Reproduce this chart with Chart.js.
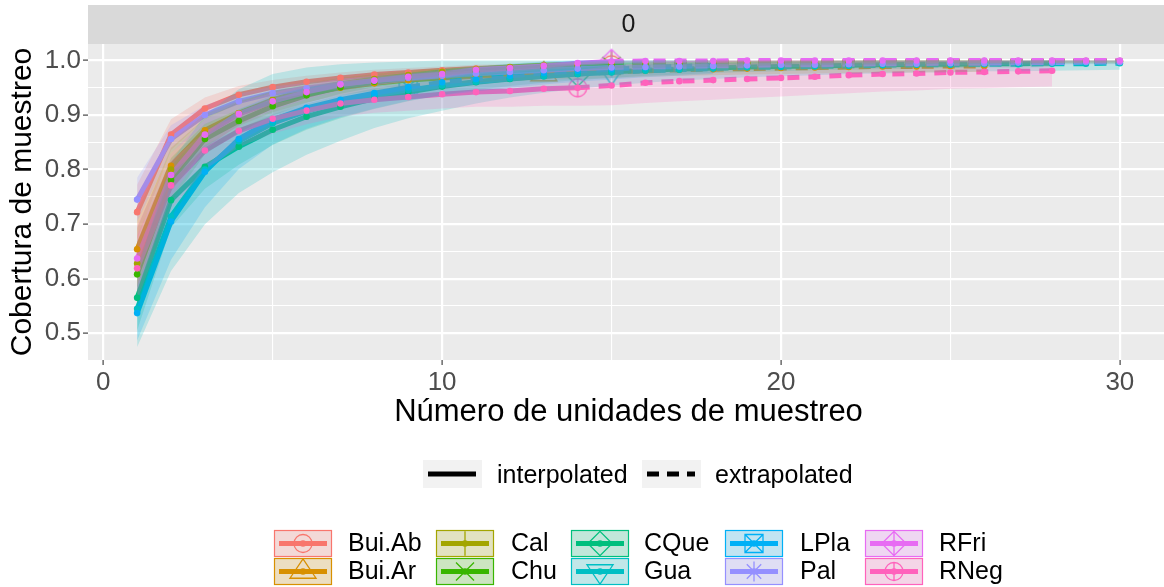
<!DOCTYPE html>
<html>
<head>
<meta charset="utf-8">
<title>Cobertura de muestreo</title>
<script src="https://cdn.jsdelivr.net/npm/chart.js@4.4.1/dist/chart.umd.min.js"></script>
<style>
  html, body { margin: 0; padding: 0; background: #ffffff; overflow: hidden; }
  #wrap { width: 1164px; height: 587px; overflow: hidden; position: relative; }
  canvas { display: block; }
</style>
</head>
<body>
<div id="wrap"><canvas id="myChart" width="1180" height="587"></canvas></div>
<script>
'use strict';

// Sites, in legend order
let siteNames = ['Bui.Ab', 'Bui.Ar', 'Cal', 'Chu', 'CQue', 'Gua', 'LPla', 'Pal', 'RFri', 'RNeg'];
let siteColors = ['#F8766D', '#D89000', '#A3A500', '#39B600', '#00BF7D', '#00BFC4', '#00B0F6', '#9590FF', '#E76BF3', '#FF62BC'];
let siteShapes = ['circle', 'triangle', 'plus', 'cross', 'diamond', 'triangleDown', 'squareCross', 'asterisk', 'diamondPlus', 'circlePlus'];
// observed number of sampling units per site (end of the interpolated part)
let observedUnits = [15, 13, 15, 15, 14, 15, 9, 15, 15, 14];

// Sample coverage at 1, 2, ... 2T sampling units
let covBuiAb = [0.722, 0.864, 0.912, 0.937, 0.951, 0.961, 0.968, 0.974, 0.978, 0.982, 0.985, 0.987, 0.989, 0.991, 0.992,
  0.993, 0.994, 0.995, 0.995, 0.996, 0.996, 0.997, 0.997, 0.997, 0.998, 0.998, 0.998, 0.998, 0.999, 0.999];
let covBuiAr = [0.654, 0.807, 0.872, 0.903, 0.924, 0.939, 0.950, 0.958, 0.964, 0.968, 0.971, 0.973, 0.975,
  0.977, 0.979, 0.981, 0.983, 0.984, 0.985, 0.986, 0.987, 0.988, 0.989, 0.989, 0.990, 0.990];
let covCal = [0.628, 0.800, 0.866, 0.903, 0.928, 0.945, 0.957, 0.966, 0.973, 0.979, 0.984, 0.988, 0.991, 0.993, 0.995,
  0.996, 0.996, 0.997, 0.997, 0.998, 0.998, 0.998, 0.998, 0.999, 0.999, 0.999, 0.999, 0.999, 0.999, 0.999];
let covChu = [0.608, 0.781, 0.856, 0.889, 0.916, 0.936, 0.951, 0.961, 0.968, 0.974, 0.979, 0.983, 0.986, 0.988, 0.990,
  0.991, 0.992, 0.993, 0.994, 0.995, 0.995, 0.996, 0.996, 0.997, 0.997, 0.997, 0.998, 0.998, 0.998, 0.998];
let covCQue = [0.565, 0.744, 0.805, 0.842, 0.873, 0.897, 0.915, 0.930, 0.942, 0.952, 0.960, 0.966, 0.971, 0.975,
  0.979, 0.982, 0.984, 0.986, 0.988, 0.989, 0.990, 0.991, 0.992, 0.993, 0.993, 0.994, 0.994, 0.995];
let covGua = [0.545, 0.714, 0.800, 0.852, 0.885, 0.907, 0.923, 0.936, 0.946, 0.954, 0.961, 0.967, 0.971, 0.975, 0.978,
  0.981, 0.983, 0.985, 0.987, 0.988, 0.989, 0.990, 0.991, 0.992, 0.992, 0.993, 0.993, 0.994, 0.994, 0.995];
let covLPla = [0.537, 0.705, 0.796, 0.856, 0.891, 0.913, 0.928, 0.940, 0.951,
  0.960, 0.966, 0.972, 0.977, 0.981, 0.984, 0.987, 0.989, 0.991];
let covPal = [0.745, 0.856, 0.900, 0.925, 0.940, 0.949, 0.957, 0.963, 0.968, 0.972, 0.976, 0.979, 0.982, 0.985, 0.987,
  0.988, 0.989, 0.990, 0.991, 0.992, 0.992, 0.993, 0.994, 0.994, 0.995, 0.995, 0.996, 0.996, 0.997, 0.997];
let covRFri = [0.637, 0.790, 0.864, 0.902, 0.925, 0.942, 0.956, 0.963, 0.970, 0.975, 0.983, 0.986, 0.990, 0.995, 0.998,
  0.999, 0.999, 0.999, 1, 1, 1, 1, 1, 1, 1, 1, 1, 1, 1, 1];
let covRNeg = [0.619, 0.771, 0.835, 0.871, 0.893, 0.908, 0.921, 0.928, 0.933, 0.938, 0.942, 0.944, 0.948, 0.950,
  0.954, 0.959, 0.962, 0.964, 0.966, 0.968, 0.970, 0.973, 0.975, 0.976, 0.978, 0.979, 0.980, 0.981];

// Half width of the confidence band at the same points
let bandBuiAb = [0.05, 0.028, 0.02, 0.016, 0.013, 0.011, 0.01, 0.009, 0.008, 0.007, 0.007, 0.006, 0.006, 0.005, 0.005,
  0.005, 0.005, 0.005, 0.004, 0.004, 0.004, 0.004, 0.004, 0.004, 0.003, 0.003, 0.003, 0.003, 0.003, 0.003];
let bandBuiAr = [0.07, 0.045, 0.03, 0.023, 0.019, 0.016, 0.014, 0.013, 0.012, 0.011, 0.011, 0.011, 0.011,
  0.011, 0.011, 0.011, 0.011, 0.011, 0.011, 0.011, 0.011, 0.011, 0.011, 0.011, 0.011, 0.011];
let bandCal = [0.065, 0.04, 0.028, 0.021, 0.016, 0.013, 0.011, 0.009, 0.008, 0.007, 0.006, 0.005, 0.005, 0.004, 0.004,
  0.004, 0.004, 0.004, 0.004, 0.003, 0.003, 0.003, 0.003, 0.003, 0.003, 0.003, 0.003, 0.003, 0.003, 0.003];
let bandChu = [0.06, 0.04, 0.028, 0.021, 0.017, 0.014, 0.012, 0.01, 0.009, 0.008, 0.007, 0.006, 0.006, 0.005, 0.005,
  0.005, 0.005, 0.005, 0.005, 0.004, 0.004, 0.004, 0.004, 0.004, 0.004, 0.004, 0.004, 0.004, 0.004, 0.004];
let bandCQue = [0.06, 0.05, 0.04, 0.033, 0.028, 0.024, 0.021, 0.019, 0.017, 0.015, 0.014, 0.013, 0.012, 0.011,
  0.011, 0.01, 0.01, 0.009, 0.009, 0.009, 0.008, 0.008, 0.008, 0.008, 0.007, 0.007, 0.007, 0.007];
let bandGua = [0.07, 0.1, 0.1, 0.095, 0.09, 0.08, 0.07, 0.06, 0.052, 0.046, 0.04, 0.035, 0.03, 0.027, 0.024,
  0.022, 0.02, 0.019, 0.018, 0.017, 0.016, 0.015, 0.015, 0.014, 0.014, 0.013, 0.013, 0.013, 0.012, 0.012];
let bandLPla = [0.05, 0.07, 0.065, 0.055, 0.045, 0.038, 0.032, 0.028, 0.025,
  0.024, 0.023, 0.022, 0.021, 0.02, 0.019, 0.018, 0.017, 0.016];
let bandPal = [0.04, 0.025, 0.018, 0.014, 0.012, 0.01, 0.009, 0.008, 0.007, 0.006, 0.006, 0.005, 0.005, 0.005, 0.004,
  0.004, 0.004, 0.004, 0.004, 0.004, 0.004, 0.004, 0.004, 0.004, 0.004, 0.004, 0.004, 0.004, 0.004, 0.004];
let bandRFri = [0.06, 0.04, 0.028, 0.02, 0.016, 0.013, 0.011, 0.009, 0.008, 0.007, 0.006, 0.005, 0.004, 0.003, 0.002,
  0.002, 0.002, 0.002, 0.002, 0.002, 0.002, 0.002, 0.002, 0.002, 0.002, 0.002, 0.002, 0.002, 0.002, 0.002];
let bandRNeg = [0.06, 0.045, 0.035, 0.03, 0.027, 0.025, 0.024, 0.024, 0.025, 0.026, 0.027, 0.029, 0.031, 0.033,
  0.036, 0.037, 0.037, 0.036, 0.035, 0.034, 0.033, 0.033, 0.032, 0.031, 0.03, 0.03, 0.029, 0.029];

let coverage = [covBuiAb, covBuiAr, covCal, covChu, covCQue, covGua, covLPla, covPal, covRFri, covRNeg];
let bands = [bandBuiAb, bandBuiAr, bandCal, bandChu, bandCQue, bandGua, bandLPla, bandPal, bandRFri, bandRNeg];

// Axis breaks (majors get labels, the others are minor grid lines)
let xTicks = [0, 5, 10, 15, 20, 25, 30];
let yTicks = [0.5, 0.55, 0.6, 0.65, 0.7, 0.75, 0.8, 0.85, 0.9, 0.95, 1.0];
let methodLabels = ['interpolated', 'extrapolated'];
let facetLabel = '0';

let FONT = '"Liberation Sans", Arial, sans-serif';
Chart.defaults.font.family = FONT;

function hexToRgba(hex, a) {
  let n = parseInt(hex.slice(1), 16);
  return `rgba(${(n >> 16) & 255}, ${(n >> 8) & 255}, ${n & 255}, ${a})`;
}

// Open point shapes like R's pch 1..10
function drawShape(ctx, kind, cx, cy, color) {
  let R = 9;
  ctx.save();
  ctx.strokeStyle = color;
  ctx.lineWidth = 1.3;
  ctx.beginPath();
  function seg(x1, y1, x2, y2) { ctx.moveTo(cx + x1, cy + y1); ctx.lineTo(cx + x2, cy + y2); }
  function poly(pts) {
    ctx.moveTo(cx + pts[0][0], cy + pts[0][1]);
    for (let i = 1; i < pts.length; i++) ctx.lineTo(cx + pts[i][0], cy + pts[i][1]);
    ctx.closePath();
  }
  let d = 1.35 * R;
  if (kind === 'circle') {
    ctx.arc(cx, cy, R, 0, Math.PI * 2);
  } else if (kind === 'triangle') {
    poly([[0, -1.4 * R], [1.45 * R, 0.75 * R], [-1.45 * R, 0.75 * R]]);
  } else if (kind === 'triangleDown') {
    poly([[0, 1.4 * R], [1.45 * R, -0.75 * R], [-1.45 * R, -0.75 * R]]);
  } else if (kind === 'plus') {
    seg(-d, 0, d, 0); seg(0, -d, 0, d);
  } else if (kind === 'cross') {
    seg(-R, -R, R, R); seg(-R, R, R, -R);
  } else if (kind === 'diamond') {
    poly([[0, -d], [d, 0], [0, d], [-d, 0]]);
  } else if (kind === 'squareCross') {
    ctx.rect(cx - R, cy - R, 2 * R, 2 * R);
    seg(-R, -R, R, R); seg(-R, R, R, -R);
  } else if (kind === 'asterisk') {
    seg(-1.1 * R, 0, 1.1 * R, 0); seg(0, -1.1 * R, 0, 1.1 * R);
    seg(-0.8 * R, -0.8 * R, 0.8 * R, 0.8 * R); seg(-0.8 * R, 0.8 * R, 0.8 * R, -0.8 * R);
  } else if (kind === 'diamondPlus') {
    poly([[0, -d], [d, 0], [0, d], [-d, 0]]);
    seg(-d, 0, d, 0); seg(0, -d, 0, d);
  } else if (kind === 'circlePlus') {
    ctx.arc(cx, cy, R, 0, Math.PI * 2);
    seg(-R, 0, R, 0); seg(0, -R, 0, R);
  }
  ctx.stroke();
  ctx.restore();
}

function makeShapeCanvas(kind, color) {
  let c = document.createElement('canvas');
  c.width = 36;
  c.height = 36;
  drawShape(c.getContext('2d'), kind, 18, 18, color);
  return c;
}

let datasets = [];
for (let i = 0; i < siteNames.length; i++) {
  let T = observedUnits[i];
  let cov = coverage[i];
  let band = bands[i];
  let color = siteColors[i];
  let rank = siteNames.length - 1 - i; // earlier sites are drawn first
  let pts = cov.map((v, k) => ({x: k + 1, y: v}));

  // big symbol at the observed sample
  datasets.push({
    label: siteNames[i] + ' observed',
    data: [pts[T - 1]],
    showLine: false,
    pointStyle: makeShapeCanvas(siteShapes[i], color),
    pointRadius: 10,
    order: 400 + rank
  });
  datasets.push({
    label: siteNames[i] + ' interpolated',
    data: pts.slice(0, T),
    borderColor: color,
    borderWidth: 5,
    borderJoinStyle: 'round',
    pointRadius: 0,
    fill: false,
    order: 300 + rank
  });
  datasets.push({
    label: siteNames[i] + ' extrapolated',
    data: pts.slice(T - 1),
    borderColor: color,
    borderWidth: 5,
    borderDash: [12, 9],
    borderJoinStyle: 'round',
    pointRadius: 0,
    fill: false,
    order: 300 + rank
  });
  // confidence band: lower edge, then upper edge filled down to it
  datasets.push({
    label: siteNames[i] + ' lcl',
    data: cov.map((v, k) => ({x: k + 1, y: v - band[k]})),
    borderWidth: 0,
    pointRadius: 0,
    fill: false,
    order: 200 + rank
  });
  datasets.push({
    label: siteNames[i] + ' ucl',
    data: cov.map((v, k) => ({x: k + 1, y: Math.min(1, v + band[k])})),
    borderWidth: 0,
    pointRadius: 0,
    fill: '-1',
    backgroundColor: hexToRgba(color, 0.2),
    order: 200 + rank
  });
  datasets.push({
    label: siteNames[i],
    data: pts,
    showLine: false,
    pointRadius: 3.3,
    pointBorderWidth: 0,
    pointBackgroundColor: color,
    order: 100 + rank
  });
}

function isMajorX(v) { return v % 10 === 0; }
function isMajorY(v) { return Math.round(v * 100) % 10 === 0; }

// panel background, facet strip and the two legends
let ggDecor = {
  id: 'ggDecor',
  beforeDraw(chart) {
    let ctx = chart.ctx;
    let a = chart.chartArea;
    ctx.save();
    ctx.fillStyle = '#ffffff';
    ctx.fillRect(0, 0, chart.width, chart.height);
    ctx.fillStyle = '#EBEBEB';
    ctx.fillRect(a.left, a.top, a.right - a.left, a.bottom - a.top);
    ctx.fillStyle = '#D9D9D9';
    ctx.fillRect(a.left, 5, a.right - a.left, a.top - 5);
    ctx.fillStyle = '#1A1A1A';
    ctx.font = '25px ' + FONT;
    ctx.textAlign = 'center';
    ctx.textBaseline = 'middle';
    ctx.fillText(facetLabel, (a.left + a.right) / 2, 25);
    ctx.restore();
  },
  afterDraw(chart) {
    let ctx = chart.ctx;
    ctx.save();
    ctx.font = '25px ' + FONT;
    ctx.textBaseline = 'middle';
    ctx.textAlign = 'left';

    // linetype legend
    let keyX = [423, 642];
    let textX = [497, 715];
    for (let j = 0; j < 2; j++) {
      ctx.fillStyle = '#F2F2F2';
      ctx.fillRect(keyX[j], 460, 59, 28);
      ctx.strokeStyle = '#000000';
      ctx.lineWidth = 5;
      ctx.setLineDash(j === 0 ? [] : [12, 8]);
      ctx.beginPath();
      ctx.moveTo(keyX[j] + 5, 474);
      ctx.lineTo(keyX[j] + 53, 474);
      ctx.stroke();
      ctx.setLineDash([]);
      ctx.fillStyle = '#000000';
      ctx.fillText(methodLabels[j], textX[j], 476);
    }

    // site legend, two rows filled by column
    let colKey = [274, 436, 571, 725, 865];
    let colText = [348, 511, 644, 800, 939];
    let rowY = [530, 558];
    for (let i = 0; i < siteNames.length; i++) {
      let col = Math.floor(i / 2);
      let row = i % 2;
      let x = colKey[col];
      let y = rowY[row];
      let w = 58;
      let h = 27;
      let cy = y + h / 2;
      let color = siteColors[i];
      ctx.fillStyle = '#F2F2F2';
      ctx.fillRect(x, y, w, h);
      ctx.fillStyle = hexToRgba(color, 0.2);
      ctx.fillRect(x, y, w, h);
      ctx.strokeStyle = color;
      ctx.lineWidth = 1.2;
      ctx.strokeRect(x + 0.5, y + 0.5, w - 1, h - 1);
      ctx.lineWidth = 5;
      ctx.beginPath();
      ctx.moveTo(x + 5, cy);
      ctx.lineTo(x + w - 5, cy);
      ctx.stroke();
      drawShape(ctx, siteShapes[i], x + w / 2, cy, color);
      ctx.fillStyle = color;
      ctx.beginPath();
      ctx.arc(x + w / 2, cy, 3.3, 0, Math.PI * 2);
      ctx.fill();
      ctx.fillStyle = '#000000';
      ctx.fillText(siteNames[i], colText[col], cy + 1);
    }
    ctx.restore();
  }
};

let ctx = document.getElementById('myChart').getContext('2d');
new Chart(ctx, {
  type: 'line',
  data: { datasets: datasets },
  plugins: [ggDecor],
  options: {
    responsive: false,
    animation: false,
    events: [],
    layout: { padding: { left: 5, top: 44, right: 8, bottom: 156 } },
    plugins: {
      legend: { display: false },
      tooltip: { enabled: false }
    },
    elements: { line: { tension: 0, borderCapStyle: 'butt' } },
    scales: {
      x: {
        type: 'linear',
        min: -0.45,
        max: 31.45,
        afterBuildTicks: (s) => { s.ticks = xTicks.map(v => ({value: v})); },
        afterFit: (s) => { s.height = 71; },
        border: { display: false },
        grid: {
          color: '#ffffff',
          lineWidth: (c) => (c.tick && isMajorX(c.tick.value)) ? 2.2 : 1.1,
          tickColor: (c) => (c.tick && isMajorX(c.tick.value)) ? '#333333' : 'rgba(0,0,0,0)',
          tickLength: 5,
          tickWidth: 1.1
        },
        ticks: {
          autoSkip: false,
          maxRotation: 0,
          padding: 2,
          color: '#4D4D4D',
          font: { size: 26 },
          callback: (v) => isMajorX(v) ? String(v) : ''
        },
        title: {
          display: true,
          text: 'Número de unidades de muestreo',
          color: '#000000',
          font: { size: 31 },
          padding: 0
        }
      },
      y: {
        type: 'linear',
        min: 0.4511,
        max: 1.0301,
        afterBuildTicks: (s) => { s.ticks = yTicks.map(v => ({value: v})); },
        afterFit: (s) => { s.width = 83; },
        border: { display: false },
        grid: {
          color: '#ffffff',
          lineWidth: (c) => (c.tick && isMajorY(c.tick.value)) ? 2.2 : 1.1,
          tickColor: (c) => (c.tick && isMajorY(c.tick.value)) ? '#333333' : 'rgba(0,0,0,0)',
          tickLength: 5,
          tickWidth: 1.1
        },
        ticks: {
          autoSkip: false,
          padding: 2,
          color: '#4D4D4D',
          font: { size: 26 },
          callback: (v) => isMajorY(v) ? v.toFixed(1) : ''
        },
        title: {
          display: true,
          text: 'Cobertura de muestreo',
          color: '#000000',
          font: { size: 30 },
          padding: 0
        }
      }
    }
  }
});
</script>
</body>
</html>
